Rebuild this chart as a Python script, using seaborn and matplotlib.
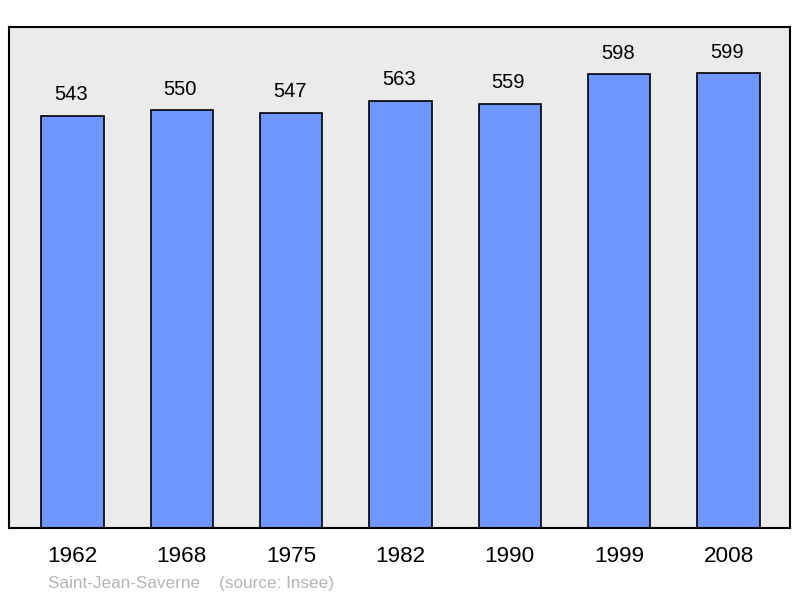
import numpy as np
import pandas as pd
import matplotlib
matplotlib.use("Agg")
import matplotlib.pyplot as plt
import seaborn as sns

# population data
years = ["1962", "1968", "1975", "1982", "1990", "1999", "2008"]
population = [543, 550, 547, 563, 559, 598, 599]

sns.set_style("white")
plt.rcParams["font.family"] = ["Liberation Sans", "DejaVu Sans"]

data = pd.DataFrame({"year": years, "pop": population})

fig = plt.figure(figsize=(8, 5.98), dpi=100)
ax = fig.add_axes([0.01125, 0.117, 0.976, 0.838])
ax.set_facecolor("#ebebeb")

sns.barplot(data=data, x="year", y="pop", color="#6f96ff", saturation=1,
            width=0.57, edgecolor="black", linewidth=1.2, ax=ax)

for i, v in enumerate(population):
    ax.annotate(str(v), (i, v), xytext=(-1, 15), textcoords="offset points",
                ha="center", va="center", fontsize=14.5, color="black")

ax.set_xlim(-0.58, 6.56)
ax.set_ylim(0, 660)
ax.set_yticks([])
ax.set_xlabel("")
ax.set_ylabel("")
ax.tick_params(axis="x", length=0, pad=13, labelsize=16.2, labelcolor="black")
for s in ax.spines.values():
    s.set_linewidth(1.5)
    s.set_color("black")

fig.text(0.06, 0.012, "Saint-Jean-Saverne    (source: Insee)", color="#b4b4b4",
         fontsize=12.3, ha="left", va="bottom")

fig.savefig("out.png", dpi=100)
